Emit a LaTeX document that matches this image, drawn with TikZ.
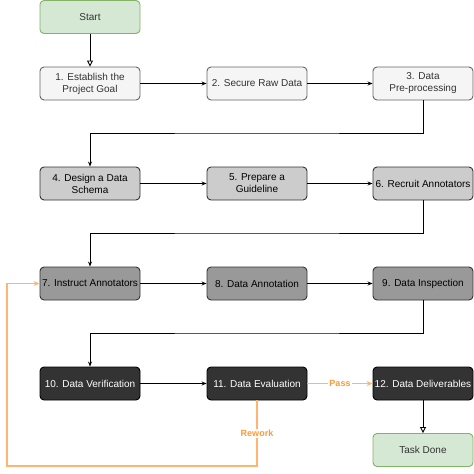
\documentclass[tikz,border=0pt]{standalone}
\usepackage{fontspec}
\setmainfont{Liberation Sans}
\usetikzlibrary{arrows.meta}

\definecolor{doneFill}{HTML}{D5E8D4}
\definecolor{doneLine}{HTML}{82B366}
\definecolor{lightFill}{HTML}{F5F5F5}
\definecolor{midFill}{HTML}{CCCCCC}
\definecolor{darkFill}{HTML}{999999}
\definecolor{blackFill}{HTML}{333333}
\definecolor{loopLine}{HTML}{FFB570}
\definecolor{loopText}{HTML}{FF9933}

\tikzset{
    box/.style={draw, rounded corners=4pt, minimum width=100pt, minimum height=33pt,
        align=center, font=\fontsize{10}{12}\selectfont, line width=0.9pt, inner sep=1pt},
    endbox/.style={box, fill=doneFill, draw=doneLine, text=black!80},
    lightbox/.style={box, fill=lightFill, draw=black!60, text=black!80},
    midbox/.style={box, fill=midFill, draw=black!80},
    darkbox/.style={box, fill=darkFill, draw=black!80},
    blackbox/.style={box, fill=blackFill, draw=black, text=white},
    flow/.style={line width=0.9pt, -{Stealth[length=5pt,width=4pt]}},
    openflow/.style={line width=0.9pt, -{Triangle[open,length=6pt,width=6pt]}},
    loop/.style={line width=1.5pt, draw=loopLine, -{Stealth[length=6pt,width=5pt]}},
    looplabel/.style={fill=white, text=loopText, font=\fontsize{9}{11}\selectfont\bfseries, inner sep=1pt},
}

\begin{document}
\begin{tikzpicture}[x=1pt, y=-1pt]
    \useasboundingbox (0,0) rectangle (474,474);

    \node [endbox] (start) at (90, 17) {Start};

    \node [lightbox] (goal) at (90, 83.5) {1. Establish the\\Project Goal};
    \node [lightbox] (raw) at (257, 83.5) {2. Secure Raw Data};
    \node [lightbox] (prep) at (423, 83.5) {3. Data\\Pre-processing};

    \node [midbox] (schema) at (90, 183.5) {4. Design a Data\\Schema};
    \node [midbox] (guide) at (257, 183.5) {5. Prepare a\\Guideline};
    \node [midbox] (recruit) at (423, 183.5) {6. Recruit Annotators};

    \node [darkbox] (instruct) at (90, 283.5) {7. Instruct Annotators};
    \node [darkbox] (annot) at (257, 283.5) {8. Data Annotation};
    \node [darkbox] (inspect) at (423, 283.5) {9. Data Inspection};

    \node [blackbox] (verify) at (90, 383.5) {10. Data Verification};
    \node [blackbox] (eval) at (257, 383.5) {11. Data Evaluation};
    \node [blackbox] (deliver) at (423, 383.5) {12. Data Deliverables};

    \node [endbox] (done) at (423, 450) {Task Done};

    % main flow
    \draw[openflow] (start) -- (goal);
    \draw[flow] (goal) -- (raw);
    \draw[flow] (raw) -- (prep);
    \draw[flow] (prep.south) |- (257, 133) -| (schema.north);
    \draw[flow] (schema) -- (guide);
    \draw[flow] (guide) -- (recruit);
    \draw[flow] (recruit.south) |- (257, 233) -| (instruct.north);
    \draw[flow] (instruct) -- (annot);
    \draw[flow] (annot) -- (inspect);
    \draw[flow] (inspect.south) |- (257, 333) -| (verify.north);
    \draw[flow] (verify) -- (eval);
    \draw[openflow] (deliver) -- (done);

    % evaluation result
    \coordinate (low) at (257, 466);
    \coordinate (side) at (7, 466);
    \draw[loop] (eval) -- node[looplabel] {Pass} (deliver);
    \draw[loop] (eval.south) -- node[looplabel] {Rework} (low) -- (side) |- (instruct.west);

\end{tikzpicture}
\end{document}
